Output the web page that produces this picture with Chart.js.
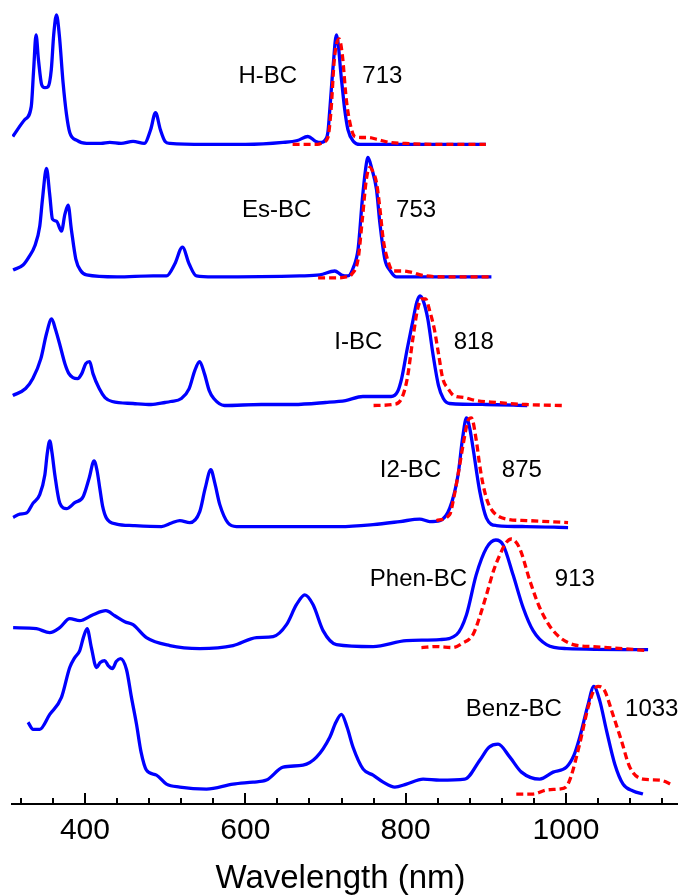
<!DOCTYPE html>
<html>
<head>
<meta charset="utf-8">
<script src="https://cdn.jsdelivr.net/npm/chart.js@4.4.0/dist/chart.umd.min.js"></script>
<style>
  html, body { margin: 0; padding: 0; background: #ffffff; }
  #wrap { width: 678px; height: 895px; position: relative; }
</style>
</head>
<body>
<div id="wrap"><canvas id="c"></canvas></div>
<script>
// ---------------- data ----------------
const compounds   = ['H-BC', 'Es-BC', 'I-BC', 'I2-BC', 'Phen-BC', 'Benz-BC'];
const peakLabels  = ['713', '753', '818', '875', '913', '1033'];
// vertical offset of each stacked spectrum (a.u.)
const offsets     = [6.62, 5.29, 4.01, 2.785, 1.57, 0.10];

// H-BC
const hAbsNm = [310,325,333,336,339,342,346,350,354,358,361,364.5,368,372.7,377,381,390,402,420,431,445,460,474,482,488,494,500,506,550,600,647,665,678,688,695,700,703,705.4,709.5,713.7,720,724,728,735,743,800,900];
const hAbs   = [0.08,0.25,0.38,0.75,1.10,0.85,0.60,0.57,0.58,0.75,1.10,1.30,1.10,0.62,0.30,0.12,0.04,0.01,0.01,0.02,0.01,0.03,0.01,0.15,0.32,0.15,0.03,0.01,0,0,0.02,0.04,0.08,0.03,0.02,0.05,0.12,0.35,0.78,1.10,0.65,0.35,0.15,0.03,0,0,0];
const hEmNm  = [659,690,697,703,707,711,717,721,726,731,736.6,745,753,765,780,800,843,900];
const hEm    = [0,0,0.02,0.07,0.35,0.85,1.06,0.90,0.45,0.20,0.08,0.07,0.07,0.05,0.02,0.01,0,0];

// Es-BC
const eAbsNm = [310.4,322.8,330,337.4,343.6,347,352,356,359.5,364.5,370.7,375,379,383,388.6,395,402,440,485,501.7,512,521.6,530,539,560,668,693,711.6,720,728,735,740.7,746,750,753,758,763.6,768,774,781,788.6,850,907];
const eAbs   = [0.07,0.12,0.20,0.31,0.51,0.78,1.09,0.83,0.58,0.56,0.46,0.63,0.72,0.48,0.18,0.06,0.02,0,0.01,0.01,0.13,0.30,0.13,0.01,0,0.01,0.02,0.06,0.02,0.01,0.10,0.28,0.78,1.08,1.20,1.08,0.88,0.53,0.18,0.06,0,0,0];
const eEmNm  = [690.8,710,726,733,740.7,746,751,755.3,759,763.6,768,772,778,784.3,795,805,826,860,907];
const eEm    = [-0.01,-0.01,0,0.03,0.18,0.58,0.98,1.10,1.06,0.95,0.68,0.38,0.16,0.06,0.06,0.05,0.01,0,0];

// I-BC
const iAbsNm = [310,326,335,345,352,358.5,363,369,375,380,385,390.8,396,401,405.9,410,417.8,425,434,460,482.5,500,506.8,520.3,530,537,543,549,555,560.7,574,620,660,700,725,746.6,781.8,790,795,802,808.8,814,818,822,827.6,834,841,847,854.6,900,951.6];
const iAbs   = [0.09,0.16,0.26,0.46,0.71,0.86,0.76,0.59,0.41,0.31,0.27,0.26,0.31,0.41,0.43,0.31,0.16,0.07,0.03,0.01,0,0.02,0.03,0.06,0.16,0.34,0.43,0.31,0.14,0.06,-0.01,0,0,0.02,0.04,0.08,0.08,0.13,0.26,0.56,0.83,1.03,1.09,1.04,0.86,0.51,0.19,0.06,0.01,0,-0.01];
const iEmNm  = [760,784.5,795,802,809,815,820,825,830,835.7,841,846.3,853,860,873,887,914,950,995];
const iEm    = [-0.01,0,0.06,0.26,0.66,0.96,1.06,1.06,0.94,0.76,0.51,0.26,0.16,0.09,0.07,0.04,0.02,0,-0.01];

// I2-BC
const i2AbsNm = [310.4,318.7,327,335.3,343.6,350,353,356.1,359,362.4,368.6,377,387.3,397.7,405.2,411.4,415,418.5,422,426.8,439.3,460,495.4,508,518.3,530.8,543.2,550,557,562,568.2,578.5,589,650,717.9,759.4,792.8,817.6,830,842.6,855,865.4,871,875.9,880,884.1,892.5,900.8,913.3,950,1002.6];
const i2Abs   = [0.09,0.125,0.135,0.235,0.32,0.52,0.735,0.86,0.735,0.52,0.235,0.18,0.24,0.30,0.485,0.66,0.565,0.385,0.205,0.085,0.025,0.01,0,0.035,0.06,0.04,0.15,0.385,0.57,0.435,0.22,0.035,0,0,0,0.02,0.05,0.075,0.05,0.06,0.185,0.52,0.885,1.09,0.985,0.785,0.35,0.085,0.01,0,-0.01];
const i2EmNm  = [838.4,855,860,865.4,872,878,882,888.4,892,896.6,902,909,925.8,950.7,1002.6];
const i2Em    = [0.06,0.12,0.285,0.52,0.835,1.065,1.09,0.85,0.635,0.42,0.255,0.15,0.075,0.06,0.04];

// Phen-BC
const pAbsNm = [310.4,339.5,356,368.6,381,393.5,410.1,426,437.2,449.7,460,476.7,505.8,543.2,584.8,614,634.7,651.4,663.8,674.2,684.6,697,713.7,759.4,801,842.6,863.5,875.9,888,900.8,912.5,921.6,934,946.6,959,975.7,1000.6,1102.4];
const pAbs   = [0.20,0.19,0.15,0.20,0.29,0.27,0.33,0.37,0.32,0.26,0.23,0.10,0.02,-0.01,0.02,0.10,0.11,0.23,0.43,0.53,0.43,0.17,0.03,0.01,0.07,0.08,0.13,0.33,0.73,1.00,1.08,1.03,0.73,0.40,0.17,0.03,-0.01,-0.02];
const pEmNm  = [819.7,838.4,859,870,884,892,900.8,910,917.5,925,932,942,955,967.3,984,1009,1033.8,1102.4];
const pEm    = [0,0.01,0,0.04,0.13,0.30,0.53,0.78,0.93,1.05,1.09,1.00,0.67,0.40,0.17,0.03,0.01,-0.03];

// Benz-BC
const bAbsNm = [329,335.3,343.6,356.1,370.7,381,387.3,393.5,398,402.7,408,414.4,419,424.7,429,434.3,439,444.3,451.8,458,464.3,470,476.7,489.2,501.7,518.3,551.6,584.8,609.7,626.4,647.2,672,688.8,705.4,713,720,727,734.4,747,759.4,772,786.5,801,821.8,842.6,873.8,892.5,904,915.3,930,944.5,967.3,984,1000.6,1010,1017.2,1027.6,1034.7,1042,1050.5,1060.9,1071.2,1083.7,1096];
const bAbs   = [0.72,0.65,0.65,0.80,0.97,1.27,1.37,1.44,1.57,1.66,1.47,1.27,1.32,1.34,1.29,1.26,1.33,1.36,1.25,0.97,0.70,0.42,0.24,0.19,0.10,0.07,0.05,0.10,0.12,0.14,0.27,0.29,0.37,0.57,0.72,0.80,0.67,0.47,0.25,0.19,0.12,0.07,0.10,0.15,0.14,0.15,0.34,0.47,0.50,0.37,0.22,0.15,0.22,0.27,0.39,0.57,0.90,1.08,0.94,0.64,0.30,0.10,0.03,0.00];
const bEmNm  = [938,959,975.2,992,1000,1006,1017,1027.6,1034.7,1040,1048,1058.4,1069,1079.6,1096,1117,1133.6,1140];
const bEm    = [0,0,0.04,0.05,0.07,0.17,0.50,0.87,1.04,1.08,1.04,0.80,0.54,0.27,0.15,0.14,0.09,0.07];

const absNm = [hAbsNm, eAbsNm, iAbsNm, i2AbsNm, pAbsNm, bAbsNm];
const absVal = [hAbs, eAbs, iAbs, i2Abs, pAbs, bAbs];
const emNm  = [hEmNm, eEmNm, iEmNm, i2EmNm, pEmNm, bEmNm];
const emVal = [hEm, eEm, iEm, i2Em, pEm, bEm];

// x-axis ticks
const majorTicks = [400, 600, 800, 1000];
const minorStep = 40;
const xTitle = 'Wavelength (nm)';

// ---------------- build chart ----------------
const FONT = '"Liberation Sans", Arial, Helvetica, sans-serif';
const CLIP = { left: 0, top: 0, right: 12, bottom: 0 };
const datasets = [];
compounds.forEach((name, k) => {
  datasets.push({
    label: name + ' abs',
    data: absNm[k].map((x, i) => ({ x: x, y: offsets[k] + absVal[k][i] })),
    borderColor: '#0000ff', borderWidth: 3.3, pointRadius: 0, clip: CLIP,
    cubicInterpolationMode: 'monotone', fill: false, order: 1
  });
  datasets.push({
    label: name + ' em',
    data: emNm[k].map((x, i) => ({ x: x, y: offsets[k] + emVal[k][i] })),
    borderColor: '#ff0000', borderWidth: 3.3, borderDash: [7, 4], pointRadius: 0, clip: CLIP,
    cubicInterpolationMode: 'monotone', fill: false, order: 0
  });
});

// text anchors (nm, a.u.) for the names and peak wavelengths
const nameAnchors = [[628, 7.30], [639, 5.955], [741, 4.63], [806, 3.353], [816, 2.253], [935, 0.95]];
const peakAnchors = [[771, 7.30], [813, 5.955], [885, 4.63], [945, 3.353], [1011, 2.253], [1107, 0.95]];

const overlay = {
  id: 'overlay',
  afterDraw(chart) {
    const ctx = chart.ctx, xs = chart.scales.x, ys = chart.scales.y;
    const ca = chart.chartArea, bottom = ca.bottom;
    ctx.save();
    ctx.strokeStyle = '#000'; ctx.lineWidth = 2;
    // axis line continues to the right edge of the figure
    ctx.beginPath(); ctx.moveTo(ca.right - 1, bottom); ctx.lineTo(chart.width, bottom); ctx.stroke();
    // inward tick marks
    for (let v = Math.ceil(xs.min / minorStep) * minorStep; v <= xs.max; v += minorStep) {
      const px = Math.round(xs.getPixelForValue(v));
      const len = majorTicks.includes(v) ? 11 : 6;
      ctx.beginPath(); ctx.moveTo(px, bottom); ctx.lineTo(px, bottom - len); ctx.stroke();
    }
    // labels
    ctx.fillStyle = '#000';
    ctx.font = '24px ' + FONT;
    ctx.textAlign = 'center'; ctx.textBaseline = 'middle';
    compounds.forEach((name, k) => {
      ctx.fillText(name, xs.getPixelForValue(nameAnchors[k][0]), ys.getPixelForValue(nameAnchors[k][1]));
      ctx.fillText(peakLabels[k], xs.getPixelForValue(peakAnchors[k][0]), ys.getPixelForValue(peakAnchors[k][1]));
    });
    ctx.restore();
  }
};

new Chart(document.getElementById('c'), {
  type: 'line',
  data: { datasets: datasets },
  options: {
    responsive: true, maintainAspectRatio: false, animation: false,
    layout: { padding: { left: 12, right: 0, top: 0, bottom: 0 } },
    plugins: { legend: { display: false }, tooltip: { enabled: false } },
    scales: {
      x: {
        type: 'linear', min: 309, max: 1128.5,
        grid: { display: false, drawTicks: false },
        border: { display: true, color: '#000', width: 2 },
        ticks: {
          stepSize: minorStep, autoSkip: false, maxRotation: 0, padding: 9,
          color: '#000', font: { family: FONT, size: 30 },
          callback: v => majorTicks.includes(v) ? String(v) : ''
        },
        title: { display: true, text: xTitle, color: '#000', font: { family: FONT, size: 33, lineHeight: 1.0 }, padding: { top: 4, bottom: 0 } }
      },
      y: { type: 'linear', min: 0, max: 8.07, display: false }
    }
  },
  plugins: [overlay]
});
</script>
</body>
</html>
